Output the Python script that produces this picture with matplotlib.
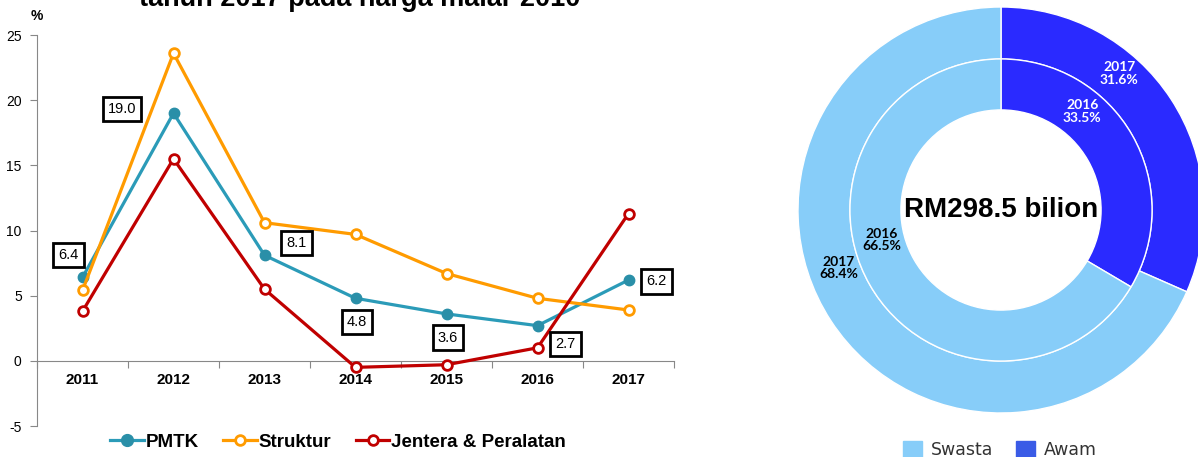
import matplotlib.pyplot as plt
from matplotlib.lines import Line2D
from matplotlib.patches import Patch

# line chart data (% growth)
years = ["2011", "2012", "2013", "2014", "2015", "2016", "2017"]
pmtk = [6.4, 19.0, 8.1, 4.8, 3.6, 2.7, 6.2]
struktur = [5.4, 23.6, 10.6, 9.7, 6.7, 4.8, 3.9]
jentera = [3.8, 15.5, 5.5, -0.5, -0.3, 1.0, 11.3]
pmtk_labels = ["6.4", "19.0", "8.1", "4.8", "3.6", "2.7", "6.2"]
# label box offsets in points (dx, dy) from each PMTK point
label_offsets = [(-10, 16), (-37, 3), (23, 9), (1, -17), (1, -17), (20, -13), (20, -1)]

# donut data (share of total, %)
sectors = ["Awam", "Swasta"]
share_2016 = [33.5, 66.5]
share_2017 = [31.6, 68.4]
total_text = "RM298.5 bilion"

c_pmtk = "#2B9BB8"
c_struk = "#FF9B00"
c_jent = "#C00000"
c_awam = "#2A2AFF"
c_swasta = "#87CDF9"

fig = plt.figure(figsize=(11.98, 4.57), dpi=100)

# ---- line chart ----
ax = fig.add_axes([37 / 1198, 1 - 426 / 457, 637 / 1198, 391 / 457])
x = list(range(len(years)))
ax.plot(x, pmtk, color=c_pmtk, lw=2.3, marker="o", ms=7.5, mfc="#2A8FA8", mec="#2A8FA8", zorder=3)
ax.plot(x, struktur, color=c_struk, lw=2.3, marker="o", ms=7, mfc="white", mec=c_struk, mew=2, zorder=3)
ax.plot(x, jentera, color=c_jent, lw=2.3, marker="o", ms=7, mfc="white", mec=c_jent, mew=2, zorder=3)

for i, (v, lab) in enumerate(zip(pmtk, pmtk_labels)):
    dx, dy = label_offsets[i]
    ax.annotate(lab, (x[i], v), xytext=(dx, dy), textcoords="offset points",
                ha="center", va="center", fontsize=10.5, family="Liberation Sans",
                bbox=dict(boxstyle="square,pad=0.35", fc="white", ec="black", lw=2), zorder=5)

ax.set_xlim(-0.5, 6.5)
ax.set_ylim(-5, 25)
ax.set_yticks([-5, 0, 5, 10, 15, 20, 25])
ax.set_yticklabels(["-5", "0", "5", "10", "15", "20", "25"], family="Liberation Sans", fontsize=10)
ax.set_xticks([i + 0.5 for i in range(-1, 7)])
ax.set_xticklabels([])
ax.tick_params(axis="x", length=5, color="#888888", direction="out")
ax.tick_params(axis="y", length=5, color="#888888", direction="out", pad=6)
for i, yr in enumerate(years):
    ax.text(i, -1.5, yr, ha="center", va="center", fontsize=11, fontweight="bold", family="Liberation Sans")
ax.spines["bottom"].set_position(("data", 0))
for s in ["top", "right"]:
    ax.spines[s].set_visible(False)
ax.spines["left"].set_color("#888888")
ax.spines["bottom"].set_color("#888888")
fig.text(37 / 1198, 1 - 16 / 457, "%", ha="center", va="center", fontsize=10, fontweight="bold", family="Liberation Sans")
# title sits mostly above the picture's top edge, as in the source
fig.text(360 / 1198, 1 - 6 / 457, "tahun 2017 pada harga malar 2010", ha="center", va="baseline",
         fontsize=19.5, fontweight="bold", family="Liberation Sans")

handles = [
    Line2D([], [], color=c_pmtk, lw=2.3, marker="o", ms=8.5, mfc="#2A8FA8", mec="#2A8FA8"),
    Line2D([], [], color=c_struk, lw=2.3, marker="o", ms=7, mfc="white", mec=c_struk, mew=2),
    Line2D([], [], color=c_jent, lw=2.3, marker="o", ms=7, mfc="white", mec=c_jent, mew=2),
]
fig.legend(handles, ["PMTK", "Struktur", "Jentera & Peralatan"], loc="center",
           bbox_to_anchor=(338 / 1198, 1 - 442 / 457), ncol=3, frameon=False,
           prop=dict(family="Liberation Sans", weight="bold", size=13.5),
           handlelength=1.8, handletextpad=0.1, columnspacing=1.3, borderpad=0)

# ---- donut ----
ax2 = fig.add_axes([798 / 1198, 44 / 457, 406 / 1198, 406 / 457])
ax2.pie(share_2017, colors=[c_awam, c_swasta], startangle=90, counterclock=False, radius=1,
        wedgeprops=dict(width=0.256, edgecolor="white", linewidth=1))
ax2.pie(share_2016, colors=[c_awam, c_swasta], startangle=90, counterclock=False, radius=0.744,
        wedgeprops=dict(width=0.251, edgecolor="white", linewidth=1))
ax2.set_xlim(-1, 1)
ax2.set_ylim(-1, 1)
ax2.set_aspect("equal")
ax2.axis("off")
ax2.text(0, 0, total_text, ha="center", va="center", fontsize=20, fontweight="bold", family="Liberation Sans")

lab_kw = dict(ha="center", va="center", fontsize=10, fontweight="bold", family="Lato", linespacing=1.05)
ax2.text(0.583, 0.672, "2017\n%.1f%%" % share_2017[0], color="white", **lab_kw)
ax2.text(0.40, 0.485, "2016\n%.1f%%" % share_2016[0], color="white", **lab_kw)
ax2.text(-0.586, -0.148, "2016\n%.1f%%" % share_2016[1], color="black", **lab_kw)
ax2.text(-0.80, -0.285, "2017\n%.1f%%" % share_2017[1], color="black", **lab_kw)

leg_handles = [Patch(color=c_swasta), Patch(color="#3A5BE6")]
fig.legend(leg_handles, ["Swasta", "Awam"], loc="center", bbox_to_anchor=(1000 / 1198, 1 - 450 / 457),
           ncol=2, frameon=False, prop=dict(family="DejaVu Sans", size=12.5),
           handlelength=1.1, handleheight=1.1, handletextpad=0.5, columnspacing=1.3,
           labelcolor="#333333", borderpad=0)

fig.savefig("out.png", dpi=100)
